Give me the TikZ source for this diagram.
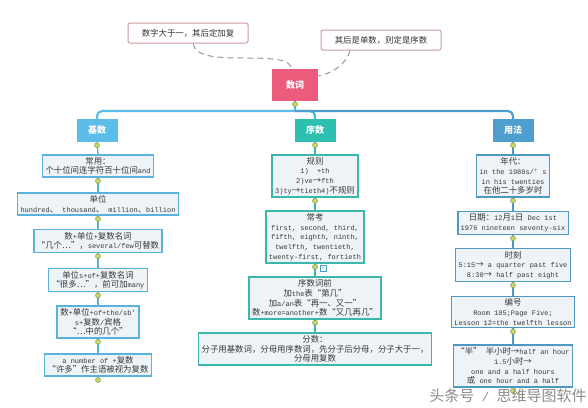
\documentclass[tikz,border=0pt]{standalone}
\usepackage{fontspec}
\setmainfont{Liberation Mono}[Scale=0.83]
\newfontfamily\cjk{Noto Sans CJK SC}
\usepackage{xcolor}
\usepackage{tikz}
\usetikzlibrary{positioning}
% Chinese runs switch to the CJK font by themselves
\XeTeXinterchartokenstate=1
\newXeTeXintercharclass\CJKcls
\newcommand\cjkrange[2]{%
  \count255=#1\relax
  \loop
    \XeTeXcharclass\count255=\CJKcls
  \ifnum\count255<#2\relax
    \advance\count255 by 1
  \repeat}
\cjkrange{"4E00}{"9FFF}
\cjkrange{"3000}{"303F}
\cjkrange{"FF00}{"FFEF}
\cjkrange{"2018}{"201D}
\cjkrange{"2026}{"2026}
\cjkrange{"2192}{"2192}
\XeTeXinterchartoks 0 \CJKcls = {\begingroup\cjk}
\XeTeXinterchartoks 4095 \CJKcls = {\begingroup\cjk}
\XeTeXinterchartoks \CJKcls 0 = {\endgroup}
\XeTeXinterchartoks \CJKcls 4095 = {\endgroup}
\definecolor{rootPink}{HTML}{EC5B7C}
\definecolor{jiBlue}{HTML}{5BBDE8}
\definecolor{xuTeal}{HTML}{2FBFB0}
\definecolor{yongBlue}{HTML}{4E9FCD}
\definecolor{jiLine}{HTML}{5AB3DC}
\definecolor{xuLine}{HTML}{3BB8AC}
\definecolor{yongLine}{HTML}{4F98C3}
\definecolor{boxFill}{HTML}{EEF3F8}
\definecolor{noteLine}{HTML}{CC9A9A}
\definecolor{foldGreen}{HTML}{C5DA6B}

\begin{document}
\begin{tikzpicture}[x=1pt,y=-1pt,
    font=\fontsize{8.4}{9.6}\selectfont,
    notebox/.style={draw=noteLine, line width=1pt, fill=white, rounded corners=2pt,
      minimum width=120pt, minimum height=20pt, text=black!80},
    rootbox/.style={fill=rootPink, text=white, font=\fontsize{9}{10}\selectfont\bfseries,
      minimum width=46pt, minimum height=32pt},
    catbox/.style={fill=#1, text=white, font=\fontsize{9}{10}\selectfont\bfseries,
      minimum width=41pt, minimum height=23pt, inner sep=0pt},
    leafbox/.style={draw=#1, line width=1.6pt, fill=boxFill, text=black!78, align=center,
      inner xsep=3pt, inner ysep=2.5pt},
    linkline/.style={draw=#1, line width=1.3pt},
    barline/.style={draw=#1, line width=2.2pt, rounded corners=5pt},
    dashlink/.style={draw=black!40, line width=1pt, dash pattern=on 6pt off 4pt},
    foldmark/.style={circle, draw=foldGreen!70!black, fill=foldGreen, line width=0.5pt,
      inner sep=0pt, minimum size=5pt},
    plusbox/.style={draw=yongBlue, fill=white, text=yongBlue, inner sep=0pt,
      minimum size=6pt, font=\fontsize{6}{6}\selectfont}]
    \fill[white] (0,0) rectangle (588,407);
    \useasboundingbox (0,0) rectangle (588,407);

    % top of the map
    \node[notebox] (noteA) at (188,33) {数字大于一，其后定加复};
    \node[notebox] (noteB) at (381,40) {其后是单数，则定是序数};
    \node[rootbox] (root) at (295,85) {数词};
    \draw[dashlink] ([xshift=5pt]noteA.south) .. controls +(2,14) and +(-25,0) .. (245,58)
        .. controls +(35,0) and +(0,-8) .. ([xshift=-4pt]root.north);
    \draw[dashlink] ([xshift=-31pt]noteB.south) .. controls +(-4,15) and +(12,-2) .. ([yshift=9pt]root.east);

    \node[catbox=jiBlue] (jishu) at (97,130.5) {基数};
    \node[catbox=xuTeal] (xushu) at (315,130.5) {序数};
    \node[catbox=yongBlue] (yongfa) at (513,130.5) {用法};

    \coordinate (hub) at (295,111);
    \draw[barline=jiBlue!60!xuTeal] (root.south) -- (hub);
    \draw[barline=jiBlue] (hub) -| (jishu.north);
    \draw[barline=xuTeal!60!jiBlue] (hub) -| (xushu.north);
    \draw[barline=yongBlue] (hub) -| (yongfa.north);

    % 基数
    \node[leafbox=jiLine] (ji1) at (98,166) {常用：\\个十位间连字符百十位间and};
    \node[leafbox=jiLine] (ji2) at (98,204) {单位\\hundred、 thousand、 million、billion};
    \node[leafbox=jiLine] (ji3) at (98,241) {数+单位+复数名词\\“几个…”，several/few可替数};
    \node[leafbox=jiLine] (ji4) at (98,280) {单位s+of+复数名词\\“很多…”，前可加many};
    \node[leafbox=jiLine] (ji5) at (98,322) {数+单位+of+the/sb'\\s+复数/宾格\\“…中的几个”};
    \node[leafbox=jiLine] (ji6) at (98,365) {a number of +复数\\“许多”作主语被视为复数};

    % 序数
    \node[leafbox=xuLine] (xu1) at (315,176) {规则\\1)\ \ +th\\2)ve→fth\\3)ty→tieth4)不规则};
    \node[leafbox=xuLine] (xu2) at (315,237) {常考\\first, second, third,\\fifth, eighth, ninth,\\twelfth, twentieth,\\twenty-first, fortieth};
    \node[leafbox=xuLine] (xu3) at (315,298) {序数词前\\加the表“第几”\\加a/an表“再一、又一”\\数+more=another+数“又几再几”};
    \node[leafbox=xuLine] (xu4) at (315,349) {分数：\\分子用基数词，分母用序数词，先分子后分母，分子大于一，\\分母用复数};

    % 用法
    \node[leafbox=yongLine] (yo1) at (513,176) {年代：\\in the 1980s/' s\\in his twenties\\在他二十多岁时};
    \node[leafbox=yongLine] (yo2) at (513,223) {日期：12月1日 Dec 1st\\1976 nineteen seventy-six};
    \node[leafbox=yongLine] (yo3) at (513,265) {时刻\\5:15→ a quarter past five\\8:30→ half past eight};
    \node[leafbox=yongLine] (yo4) at (513,312) {编号\\Room 105;Page Five;\\Lesson 12=the twelfth lesson};
    \node[leafbox=yongLine] (yo5) at (513,366) {“半” 半小时→half an hour\\1.5小时→\\one and a half hours\\或 one hour and a half};

    \foreach \a/\b in {jishu/ji1, ji1/ji2, ji2/ji3, ji3/ji4, ji4/ji5, ji5/ji6}
        \draw[linkline=jiLine] (\a.south) -- (\b.north);
    \foreach \a/\b in {xushu/xu1, xu1/xu2, xu2/xu3, xu3/xu4}
        \draw[linkline=xuLine] (\a.south) -- (\b.north);
    \foreach \a/\b in {yongfa/yo1, yo1/yo2, yo2/yo3, yo3/yo4, yo4/yo5}
        \draw[linkline=yongLine] (\a.south) -- (\b.north);

    \foreach \n in {root, jishu, ji1, ji2, ji3, ji4, ji5, ji6, xushu, xu1, xu2, xu3,
        yongfa, yo1, yo2, yo3, yo4, yo5}
        \node[foldmark] at ([yshift=-3pt]\n.south) {};
    \node[plusbox] (more) at ([xshift=8pt,yshift=-4pt]xu2.south) {+};

    \node[text=black!45, font=\fontsize{15}{15}\selectfont] (mark) at (508,396) {头条号 / 思维导图软件};
\end{tikzpicture}
\end{document}
